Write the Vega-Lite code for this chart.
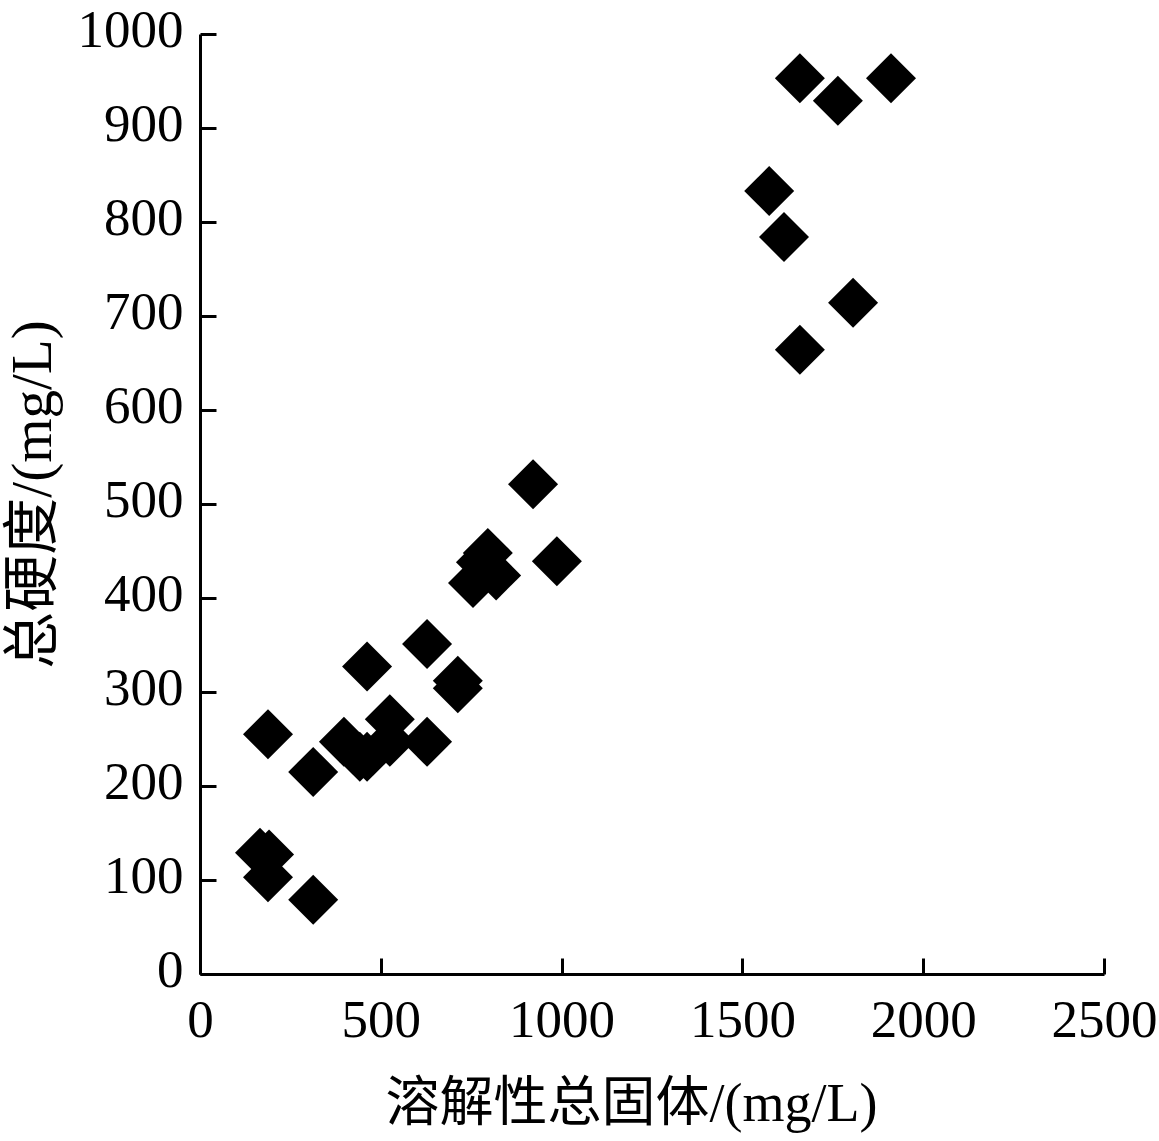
{
  "$schema": "https://vega.github.io/schema/vega-lite/v6.json",
  "width": 904,
  "height": 940,
  "autosize": {"type": "none"},
  "padding": {"left": 200, "top": 34, "right": 55, "bottom": 167},
  "background": "white",
  "config": {
    "view": {"stroke": null},
    "axis": {
      "grid": false,
      "domainColor": "black",
      "domainWidth": 3,
      "tickColor": "black",
      "tickWidth": 3,
      "tickSize": -16,
      "labelFont": "Liberation Serif",
      "labelFontSize": 53,
      "labelColor": "black",
      "labelFlush": false,
      "labelOverlap": false,
      "format": "d",
      "titleFont": "Liberation Serif, Noto Sans CJK SC",
      "titleFontSize": 54,
      "titleFontWeight": "normal",
      "titleColor": "black"
    }
  },
  "data": {
    "values": [
      {"tds": 1659, "hardness": 953},
      {"tds": 1911, "hardness": 953},
      {"tds": 1764, "hardness": 929},
      {"tds": 1574, "hardness": 833},
      {"tds": 1615, "hardness": 784},
      {"tds": 1806, "hardness": 714},
      {"tds": 1659, "hardness": 664},
      {"tds": 921, "hardness": 521},
      {"tds": 987, "hardness": 439},
      {"tds": 796, "hardness": 448},
      {"tds": 777, "hardness": 438},
      {"tds": 755, "hardness": 416},
      {"tds": 819, "hardness": 424},
      {"tds": 628, "hardness": 351},
      {"tds": 462, "hardness": 327},
      {"tds": 713, "hardness": 312},
      {"tds": 713, "hardness": 304},
      {"tds": 188, "hardness": 255},
      {"tds": 313, "hardness": 215},
      {"tds": 525, "hardness": 271},
      {"tds": 525, "hardness": 247},
      {"tds": 398, "hardness": 247},
      {"tds": 442, "hardness": 231},
      {"tds": 462, "hardness": 231},
      {"tds": 628, "hardness": 247},
      {"tds": 166, "hardness": 129},
      {"tds": 191, "hardness": 127},
      {"tds": 188, "hardness": 103},
      {"tds": 313, "hardness": 79}
    ]
  },
  "mark": {"type": "point", "shape": "diamond", "filled": true, "color": "black", "size": 2500, "opacity": 1},
  "encoding": {
    "x": {
      "field": "tds",
      "type": "quantitative",
      "scale": {"domain": [0, 2500], "nice": false},
      "axis": {
        "title": "溶解性总固体/(mg/L)",
        "values": [0, 500, 1000, 1500, 2000, 2500],
        "labelPadding": 36,
        "labelBaseline": "top",
        "titleX": 431,
        "titleY": 130,
        "titleBaseline": "middle",
        "titleAlign": "center"
      }
    },
    "y": {
      "field": "hardness",
      "type": "quantitative",
      "scale": {"domain": [0, 1000], "nice": false},
      "axis": {
        "title": "总硬度/(mg/L)",
        "titleFontSize": 57,
        "values": [0, 100, 200, 300, 400, 500, 600, 700, 800, 900, 1000],
        "labelPadding": 33,
        "labelBaseline": "middle",
        "labelOffset": -4,
        "titleX": -167,
        "titleY": 460,
        "titleAngle": -90,
        "titleBaseline": "middle",
        "titleAlign": "center"
      }
    }
  }
}
